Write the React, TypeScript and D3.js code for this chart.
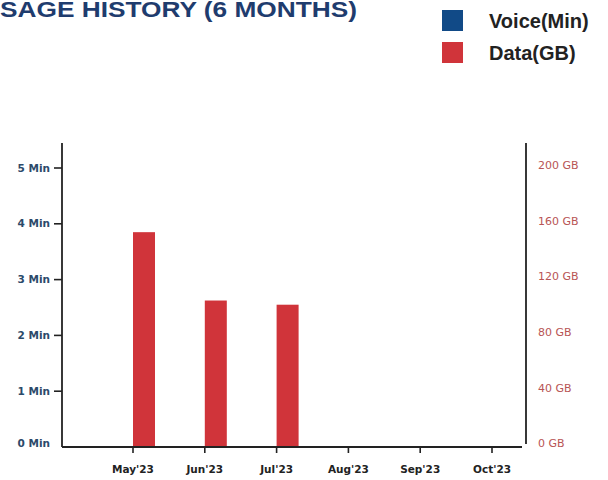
import React from "react";
import * as d3 from "d3";

const months = ["May'23", "Jun'23", "Jul'23", "Aug'23", "Sep'23", "Oct'23"];
const voiceMin = [0, 0, 0, 0, 0, 0];
const dataGB = [154, 105, 102, 0, 0, 0];
const series = ["Voice(Min)", "Data(GB)"];
const seriesColors = ["#114a87", "#d0343a"];
const minTicks = [0, 1, 2, 3, 4, 5];
const gbTicks = [0, 40, 80, 120, 160, 200];

const W = 608;
const H = 480;
const left = 62;
const right = 526;
const top = 143;
const base = 447;

export default function App() {
  const x = d3.scalePoint<string>().domain(months).range([133, 492]);
  const inner = d3.scaleBand<string>().domain(series).range([-22, 22]).padding(0);
  const yMin = d3.scaleLinear().domain([0, 5]).range([base, 168]);
  const yGB = d3.scaleLinear().domain([0, 200]).range([base, 168]);
  const bw = inner.bandwidth();

  return (
    <svg
      width={W}
      height={H}
      viewBox={`0 0 ${W} ${H}`}
      style={{ position: "fixed", left: 0, top: 0, background: "#fff" }}
    >
      <rect x={0} y={0} width={W} height={H} fill="#fff" />
      <text
        x={-19}
        y={16.5}
        fontFamily="'Liberation Sans', Arial, sans-serif"
        fontWeight="bold"
        fontSize={21.5}
        textLength={376}
        lengthAdjust="spacingAndGlyphs"
        fill="#1f3c6e"
      >
        USAGE HISTORY (6 MONTHS)
      </text>

      {series.map((s, i) => (
        <g key={s}>
          <rect x={442} y={10 + i * 32} width={21} height={21} fill={seriesColors[i]} />
          <text
            x={489}
            y={28 + i * 32}
            fontFamily="'Liberation Sans', Arial, sans-serif"
            fontWeight="bold"
            fontSize={20}
            fill="#222"
          >
            {s}
          </text>
        </g>
      ))}

      {/* bars */}
      {months.map((m, i) => (
        <g key={m}>
          <rect
            x={(x(m) as number) + (inner(series[0]) as number)}
            y={yMin(voiceMin[i])}
            width={bw}
            height={base - yMin(voiceMin[i])}
            fill={seriesColors[0]}
          />
          <rect
            x={(x(m) as number) + (inner(series[1]) as number)}
            y={yGB(dataGB[i])}
            width={bw}
            height={base - yGB(dataGB[i])}
            fill={seriesColors[1]}
          />
        </g>
      ))}

      {/* axes */}
      <line x1={left} y1={top} x2={left} y2={base} stroke="#222" strokeWidth={1.8} />
      <line x1={right} y1={top} x2={right} y2={base - 3} stroke="#222" strokeWidth={1.8} />
      <line x1={left} y1={base} x2={right - 4} y2={base} stroke="#222" strokeWidth={1.8} />

      {minTicks.map((t) => (
        <g key={"m" + t}>
          {t > 0 && (
            <line x1={left - 8} x2={left} y1={yMin(t)} y2={yMin(t)} stroke="#222" strokeWidth={1.6} />
          )}
          <text
            x={50}
            y={t === 0 ? yMin(t) - 4 : yMin(t)}
            dy="0.35em"
            textAnchor="end"
            fontFamily="'DejaVu Sans', sans-serif"
            fontWeight="bold"
            fontSize={10.5}
            fill="#2c4a6a"
          >
            {`${t} Min`}
          </text>
        </g>
      ))}

      {gbTicks.map((t) => (
        <text
          key={"g" + t}
          x={538}
          y={t === 0 ? yGB(t) - 4 : yGB(t) - 3}
          dy="0.35em"
          fontFamily="'DejaVu Sans', sans-serif"
          fontSize={11}
          fill="#b85555"
        >
          {`${t} GB`}
        </text>
      ))}

      {months.map((m) => (
        <g key={"x" + m}>
          <line x1={x(m)} x2={x(m)} y1={base} y2={base + 6} stroke="#222" strokeWidth={1.6} />
          <text
            x={x(m)}
            y={473}
            textAnchor="middle"
            fontFamily="'DejaVu Sans', sans-serif"
            fontWeight="bold"
            fontSize={10.5}
            fill="#222"
          >
            {m}
          </text>
        </g>
      ))}
    </svg>
  );
}
